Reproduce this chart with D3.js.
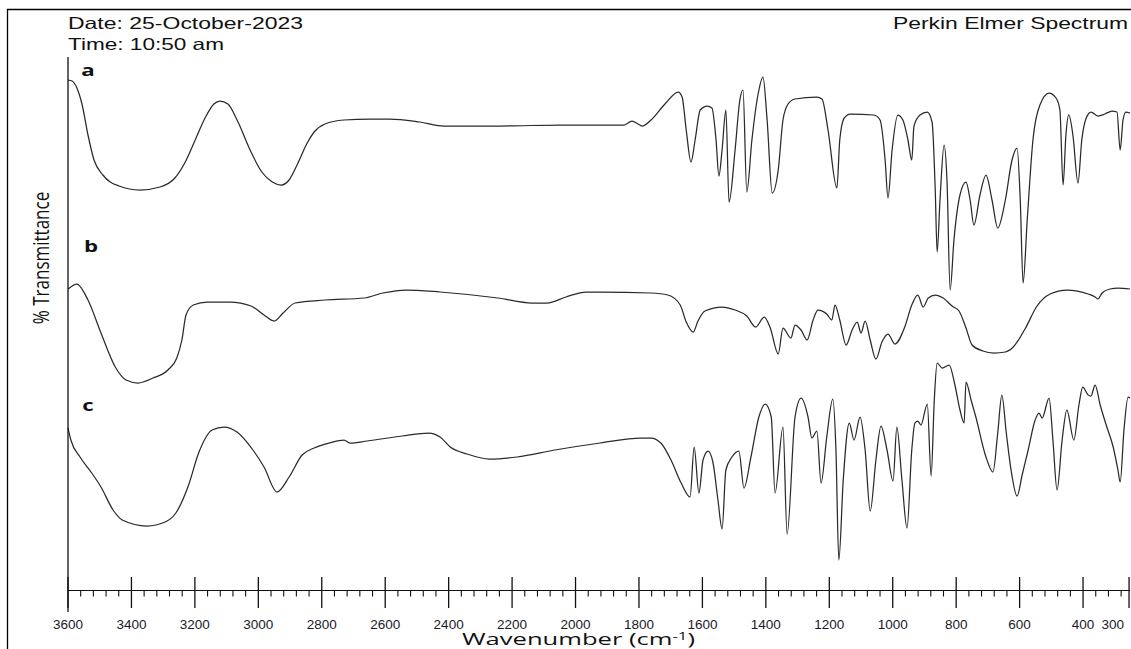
<!DOCTYPE html>
<html>
<head>
<meta charset="utf-8">
<script src="https://cdn.jsdelivr.net/npm/d3@7"></script>
<style>
  body { margin: 0; background: #fff; }
  svg { display: block; }
</style>
</head>
<body>
<div id="chart"></div>
<script>
// wavenumber (cm-1), transmittance (arbitrary units, stacked)
let specA = [
  [3600,500],[3587,499],[3572,492],[3556,476],[3537,445],[3518,420],[3490,405],[3439,394],[3373,390],[3310,393],
  [3263,402],[3232,417],[3199,440],[3168,462],[3140,476],[3121,479],[3096,476],[3064,458],[3026,430],[2989,408],
  [2956,398],[2928,395],[2903,400],[2875,417],[2846,437],[2824,448],[2790,456],[2730,460],[2648,461],[2585,461],
  [2491,458],[2414,454],[2238,454],[2049,455],[1922,455],[1847,455],[1822,459],[1803,456],[1790,454],[1762,460],
  [1718,476],[1676,488],[1664,483],[1651,450],[1636,418],[1623,440],[1607,470],[1585,474],[1570,472],[1557,440],
  [1548,404],[1538,430],[1526,470],[1516,378],[1497,430],[1482,480],[1472,490],[1460,388],[1444,440],[1425,485],
  [1409,503],[1396,460],[1380,387],[1361,410],[1346,460],[1330,476],[1308,481],[1239,483],[1223,481],[1204,450],
  [1176,392],[1167,440],[1153,462],[1134,466],[1059,465],[1040,460],[1024,420],[1015,382],[1002,430],[984,465],
  [968,460],[952,440],[940,420],[933,454],[914,465],[891,468],[876,458],[866,390],[860,328],[851,380],
  [838,435],[829,400],[819,290],[807,340],[788,385],[769,398],[756,380],[744,355],[725,385],[706,405],
  [687,380],[669,352],[645,380],[624,420],[608,432],[598,380],[589,297],[576,360],[558,440],[536,475],
  [507,487],[485,482],[473,470],[463,395],[454,445],[445,465],[432,445],[416,397],[404,440],[390,462],
  [375,468],[353,464],[331,466],[309,469],[293,468],[283,430],[274,460],[265,468],[252,467]
];

let specB = [
  [3600,291],[3572,296],[3537,280],[3496,247],[3451,213],[3417,200],[3379,197],[3332,202],[3285,210],[3257,222],
  [3241,240],[3228,265],[3205,275],[3161,278],[3089,278],[3023,274],[2982,265],[2950,259],[2922,267],[2884,277],
  [2790,280],[2666,282],[2607,287],[2535,290],[2427,288],[2245,282],[2137,277],[2090,277],[2030,283],[1967,288],
  [1922,288],[1762,287],[1709,285],[1670,275],[1651,258],[1629,248],[1614,259],[1592,269],[1538,273],[1497,270],
  [1460,264],[1432,253],[1405,263],[1386,252],[1361,226],[1346,252],[1321,242],[1308,255],[1289,250],[1270,240],
  [1251,260],[1236,270],[1208,266],[1192,260],[1182,275],[1167,260],[1147,235],[1128,250],[1112,258],[1100,247],
  [1087,259],[1071,240],[1053,221],[1034,238],[1015,246],[993,236],[962,253],[940,275],[921,285],[904,273],
  [888,282],[866,285],[841,282],[813,274],[791,269],[769,252],[750,235],[716,229],[681,227],[645,228],
  [620,233],[583,251],[545,274],[504,286],[451,290],[384,286],[362,283],[353,281],[340,287],[315,291],
  [290,292],[252,291]
];

let specC = [
  [3600,152],[3591,140],[3562,123],[3525,107],[3496,93],[3458,70],[3429,60],[3351,54],[3294,58],[3260,67],
  [3222,93],[3187,128],[3146,150],[3108,153],[3067,148],[3017,130],[2982,113],[2941,88],[2903,103],[2862,125],
  [2824,132],[2777,137],[2730,140],[2711,137],[2657,139],[2547,144],[2462,147],[2427,143],[2395,133],[2342,126],
  [2270,121],[2184,123],[2065,130],[1922,137],[1794,142],[1762,142],[1731,137],[1699,120],[1667,97],[1639,83],
  [1626,133],[1611,87],[1598,120],[1582,129],[1567,118],[1551,80],[1538,51],[1526,110],[1507,123],[1485,129],
  [1469,92],[1447,123],[1422,163],[1402,176],[1383,163],[1371,87],[1346,153],[1333,46],[1308,163],[1289,182],
  [1267,163],[1255,142],[1239,149],[1226,97],[1208,143],[1189,181],[1179,130],[1170,20],[1156,100],[1137,157],
  [1122,140],[1103,163],[1087,130],[1071,69],[1053,120],[1037,154],[1018,130],[999,99],[987,153],[971,100],
  [955,52],[940,130],[930,157],[921,159],[911,155],[891,176],[879,104],[869,180],[860,217],[844,212],
  [822,215],[804,195],[788,170],[775,157],[769,198],[753,180],[738,163],[706,123],[684,108],[669,147],
  [656,185],[642,147],[627,110],[608,84],[592,105],[573,130],[551,160],[539,167],[529,162],[507,182],
  [495,140],[482,90],[466,140],[451,170],[429,140],[413,175],[401,193],[384,185],[375,184],[362,195],
  [346,175],[327,155],[305,133],[290,110],[283,98],[271,150],[258,183],[252,182]
];

let seriesNames = ["a", "b", "c"];
let majorTicks = [3600, 3400, 3200, 3000, 2800, 2600, 2400, 2200, 2000, 1800, 1600, 1400, 1200, 1000, 800, 600, 400];
let tickLabels = [3600, 3400, 3200, 3000, 2800, 2600, 2400, 2200, 2000, 1800, 1600, 1400, 1200, 1000, 800, 600, 400, 300];
let endTick = 255;

let width = 1131
let height = 649

let x = d3.scaleLinear()
    .domain([3600, 252])
    .range([68, 1130])

let y = d3.scaleLinear()
    .domain([0, 520])
    .range([580, 60])

let svg = d3.select('#chart')
    .append('svg')
    .attr('width', width)
    .attr('height', height)

svg.append('rect')
    .attr('width', width)
    .attr('height', height)
    .attr('fill', '#fff')

// frame (top + left edge of the pasted figure)
svg.append('path')
    .attr('d', 'M7.5,649 V9.5 H1131')
    .attr('fill', 'none')
    .attr('stroke', '#000')
    .attr('stroke-width', 1.3)

// header texts
svg.append('text')
    .attr('x', 68).attr('y', 29)
    .attr('font-family', 'Liberation Sans, Arial, sans-serif')
    .attr('font-size', 16.5)
    .attr('textLength', 235).attr('lengthAdjust', 'spacingAndGlyphs')
    .attr('fill', '#111')
    .text('Date: 25-October-2023')

svg.append('text')
    .attr('x', 68).attr('y', 49.5)
    .attr('font-family', 'Liberation Sans, Arial, sans-serif')
    .attr('font-size', 16.5)
    .attr('textLength', 156).attr('lengthAdjust', 'spacingAndGlyphs')
    .attr('fill', '#111')
    .text('Time: 10:50 am')

svg.append('text')
    .attr('x', 1128).attr('y', 28.5)
    .attr('text-anchor', 'end')
    .attr('font-family', 'Liberation Sans, Arial, sans-serif')
    .attr('font-size', 16.5)
    .attr('textLength', 235).attr('lengthAdjust', 'spacingAndGlyphs')
    .attr('fill', '#111')
    .text('Perkin Elmer Spectrum')

// spectra
let line = d3.line()
    .x(d => x(d[0]))
    .y(d => y(d[1]))
    .curve(d3.curveMonotoneX)

svg.selectAll('.spec')
    .data([specA, specB, specC])
    .join('path')
    .attr('class', 'spec')
    .attr('d', line)
    .attr('fill', 'none')
    .attr('stroke', '#2a2a2a')
    .attr('stroke-width', 1.25)

// series letters
let letterPos = [[88, 76], [91, 252], [88, 411]];
svg.selectAll('.letter')
    .data(seriesNames)
    .join('text')
    .attr('class', 'letter')
    .attr('transform', (d, i) => `translate(${letterPos[i][0]},${letterPos[i][1]}) scale(1.35,1)`)
    .attr('text-anchor', 'middle')
    .attr('font-family', 'Open Sans, sans-serif')
    .attr('font-weight', 700)
    .attr('font-size', 16.5)
    .attr('fill', '#111')
    .text(d => d)

// axes
let axisY = 590.5
svg.append('line')
    .attr('x1', 68).attr('x2', 68)
    .attr('y1', 57).attr('y2', 612)
    .attr('stroke', '#111').attr('stroke-width', 1.3)

svg.append('line')
    .attr('x1', x(3600)).attr('x2', x(252))
    .attr('y1', axisY).attr('y2', axisY)
    .attr('stroke', '#111').attr('stroke-width', 1.2)

svg.selectAll('.major')
    .data(majorTicks.concat([endTick]))
    .join('line')
    .attr('class', 'major')
    .attr('x1', d => x(d)).attr('x2', d => x(d))
    .attr('y1', 577).attr('y2', 608)
    .attr('stroke', '#111').attr('stroke-width', 1.3)

let minorTicks = d3.range(3560, 270, -40).filter(v => v % 200 !== 0)
svg.selectAll('.minor')
    .data(minorTicks)
    .join('line')
    .attr('class', 'minor')
    .attr('x1', d => x(d)).attr('x2', d => x(d))
    .attr('y1', axisY).attr('y2', axisY + 6)
    .attr('stroke', '#111').attr('stroke-width', 1.1)

svg.selectAll('.tlabel')
    .data(tickLabels)
    .join('text')
    .attr('class', 'tlabel')
    .attr('x', d => d === 300 ? x(d) - 2 : x(d))
    .attr('y', 629)
    .attr('text-anchor', 'middle')
    .attr('font-family', 'Liberation Sans, Arial, sans-serif')
    .attr('font-size', 13.5)
    .attr('fill', '#1a1a2a')
    .text(d => d)

// axis titles
let xt = svg.append('text')
    .attr('x', 462).attr('y', 644.5)
    .attr('font-family', 'Open Sans, sans-serif')
    .attr('font-size', 16)
    .attr('textLength', 233).attr('lengthAdjust', 'spacingAndGlyphs')
    .attr('fill', '#111')
xt.append('tspan').text('Wavenumber (cm')
xt.append('tspan').attr('font-size', 10.5).attr('dy', -5).text('-1')
xt.append('tspan').attr('dy', 5).text(')')

svg.append('text')
    .attr('transform', 'translate(49,258) scale(1.3,1) rotate(-90)')
    .attr('text-anchor', 'middle')
    .attr('font-family', 'Open Sans, sans-serif')
    .attr('font-size', 17)
    .attr('fill', '#111')
    .text('% Transmittance')
</script>
</body>
</html>
